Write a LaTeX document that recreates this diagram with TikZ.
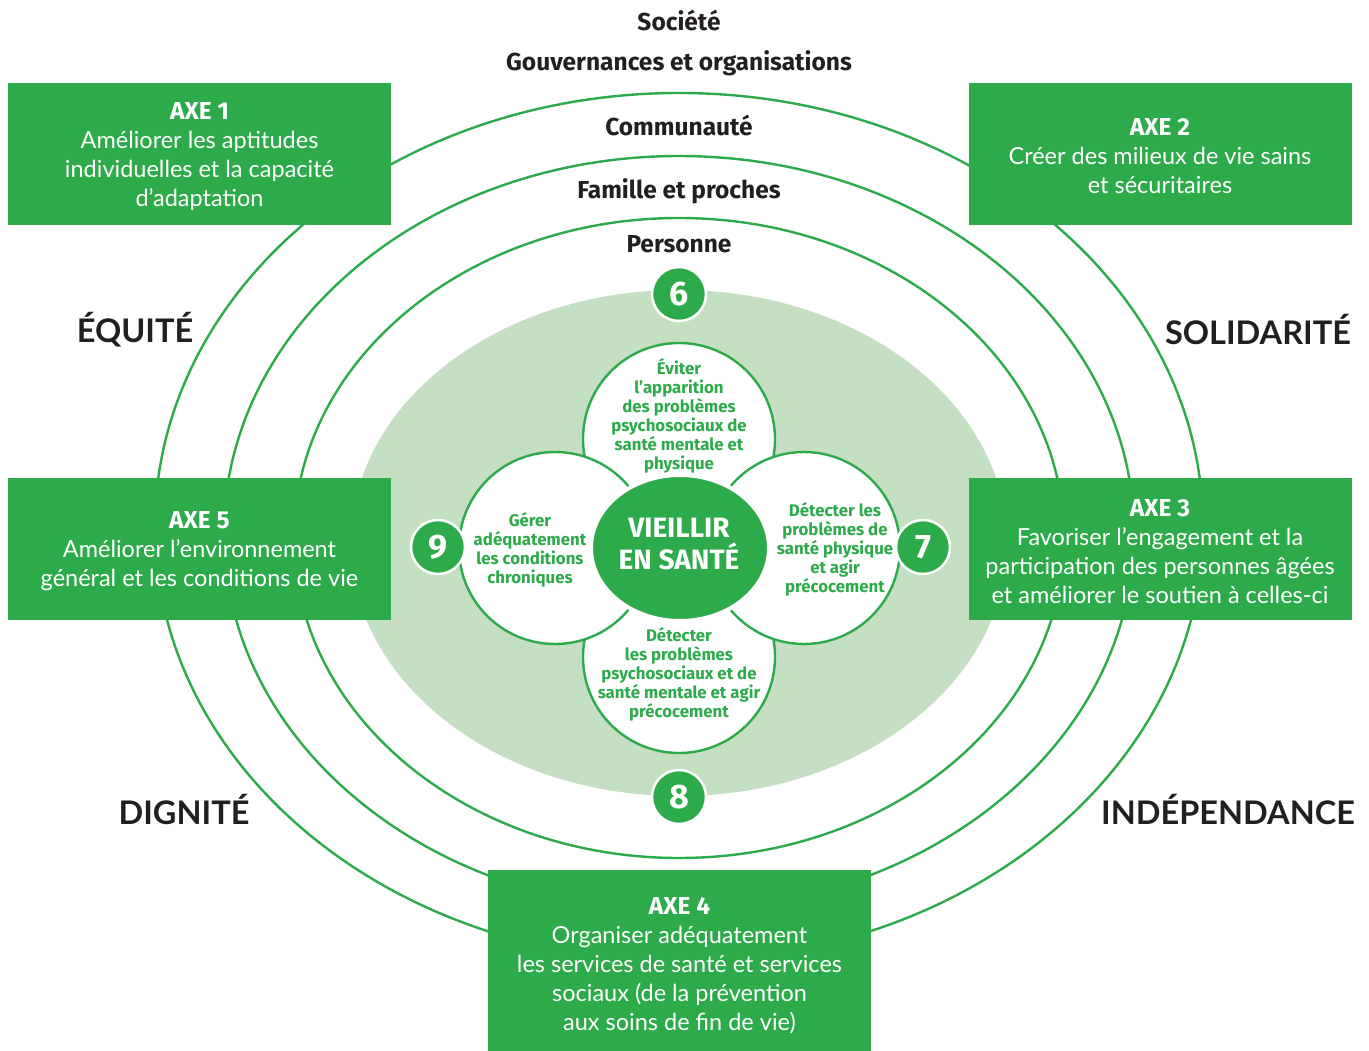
\documentclass[tikz,border=0pt]{standalone}
\usepackage{fontspec}
\setmainfont{Lato}
\newfontfamily\fira{Fira Sans}
\usetikzlibrary{shapes.geometric}
\definecolor{gr}{RGB}{45,170,74}
\definecolor{lgr}{RGB}{196,223,194}
\definecolor{txt}{RGB}{35,31,32}
\newcommand{\axetitle}[1]{{\fira\bfseries\fontsize{24.5}{29}\selectfont #1}}
\begin{document}
\begin{tikzpicture}[x=1pt,y=-1pt,
 ring/.style={draw=gr, line width=2.4pt},
 axebox/.style={fill=gr, inner sep=0pt, minimum width=383pt, minimum height=142pt},
 axetxt/.style={text=white, inner sep=0pt, align=center, font=\fontsize{23.5}{29}\selectfont},
 lvl/.style={text=txt, font=\fira\bfseries\fontsize{24.5}{28}\selectfont},
 val/.style={text=txt, font=\bfseries\fontsize{32.5}{36}\selectfont},
 petal/.style={circle, draw=gr, fill=white, line width=2.4pt, minimum size=192pt, inner sep=0pt},
 ptxt/.style={text=gr, align=center, font=\fira\bfseries\fontsize{16.8}{19}\selectfont},
 badge/.style={circle, fill=gr, draw=white, line width=2.5pt, minimum size=54pt, inner sep=0pt, text=white, font=\fira\bfseries\fontsize{34}{34}\selectfont},
]
\useasboundingbox[fill=white] (0,0) rectangle (1369,1051);
% rings
\draw[ring] (679,527) ellipse [x radius=524pt, y radius=434pt];
\draw[ring] (679,533) ellipse [x radius=455pt, y radius=377pt];
\draw[ring] (679,538) ellipse [x radius=385pt, y radius=320pt];
\fill[lgr] (679,543) ellipse [x radius=328pt, y radius=253pt];
% petals
\node[petal] (ptop) at (679,439) {};
\node[petal] (pbot) at (679,657) {};
\node[petal] (pleft) at (555,548) {};
\node[petal] (pright) at (804,548) {};
\node[ellipse, fill=gr, draw=white, line width=4pt, minimum width=178pt, minimum height=146pt, inner sep=0pt] (core) at (680,548) {};
\node[text=white, align=center, font=\fira\bfseries\fontsize{28}{32}\selectfont] (coretxt) at (679,544) {VIEILLIR\\EN SANTÉ};
\node[ptxt] (ttop) at (679,415.5) {Éviter\\l’apparition\\des problèmes\\psychosociaux de\\santé mentale et\\physique};
\node[ptxt] (tleft) at (530,550) {Gérer\\adéquatement\\les conditions\\chroniques};
\node[ptxt] (tright) at (835,549.5) {Détecter les\\problèmes de\\santé physique\\et agir\\précocement};
\node[ptxt] (tbot) at (679,674.5) {Détecter\\les problèmes\\psychosociaux et de\\santé mentale et agir\\précocement};
% badges
\node[badge] (b6) at (679,294) {6};
\node[badge] (b7) at (923,547) {7};
\node[badge] (b8) at (679,797) {8};
\node[badge] (b9) at (438,547) {9};
% level labels
\node[lvl] (soc) at (679,20) {Société};
\node[lvl] (gov) at (679,63) {Gouvernances et organisations};
\node[lvl] (com) at (679,125) {Communauté};
\node[lvl] (fam) at (679,191) {Famille et proches};
\node[lvl] (per) at (679,244) {Personne};
% values
\node[val] (equ) at (135,330) {ÉQUITÉ};
\node[val] (sol) at (1258,330) {SOLIDARITÉ};
\node[val] (dig) at (184,810) {DIGNITÉ};
\node[val] (ind) at (1228,810) {INDÉPENDANCE};
% axes
\node[axebox] (axe1) at (199.5,154) {};
\node[axebox] (axe2) at (1160,154) {};
\node[axebox] (axe5) at (199.5,548.5) {};
\node[axebox] (axe3) at (1160,548.5) {};
\node[axebox, minimum height=190pt] (axe4) at (679.5,965) {};
\node[axetxt] (axe1t) at (199.5,157) {\axetitle{AXE 1}\\Améliorer les aptitudes\\individuelles et la capacité\\d’adaptation};
\node[axetxt] (axe2t) at (1160,156.5) {\axetitle{AXE 2}\\Créer des milieux de vie sains\\et sécuritaires};
\node[axetxt] (axe5t) at (199.5,551) {\axetitle{AXE 5}\\Améliorer l’environnement\\général et les conditions de vie};
\node[axetxt] (axe3t) at (1160,551.5) {\axetitle{AXE 3}\\Favoriser l’engagement et la\\participation des personnes âgées\\et améliorer le soutien à celles-ci};
\node[axetxt] (axe4t) at (679.5,966) {\axetitle{AXE 4}\\Organiser adéquatement\\les services de santé et services\\sociaux (de la prévention\\aux soins de fin de vie)};
\end{tikzpicture}
\end{document}
